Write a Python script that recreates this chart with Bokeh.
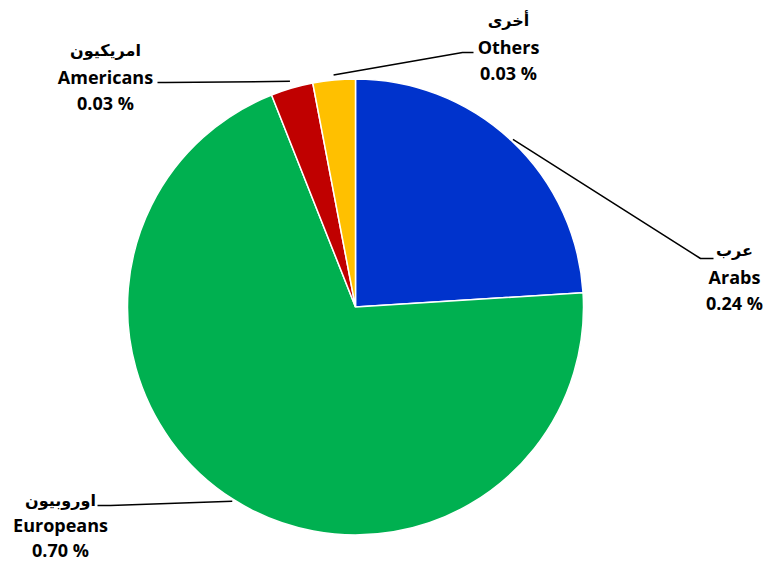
import math
from bokeh.plotting import figure
from bokeh.models import Range1d, ColumnDataSource
from bokeh.core.properties import value
from bokeh.embed import file_html
from bokeh.resources import INLINE

# ---- data ----
categories_en = ["Arabs", "Europeans", "Americans", "Others"]
categories_ar = ["عرب", "اوروبيون", "امريكيون", "أخرى"]
shares = [0.24, 0.70, 0.03, 0.03]
share_labels = ["0.24 %", "0.70 %", "0.03 %", "0.03 %"]
colors = ["#0033CC", "#00B050", "#C00000", "#FFC000"]

# ---- layout (screen pixel coordinates) ----
W, H = 768, 563
cx, cy_s, R = 355, 306.5, 228

def sy(y):
    return H - y

# label text centre x, first-line y, line gap, leader elbow and end (screen coords)
label_layout = {
    "Arabs":     dict(tx=734, ty=250, gap=26, elbow=(700, 258), end=(713, 258), lr=2),
    "Europeans": dict(tx=60,  ty=500, gap=24.5, elbow=(110, 505), end=(97, 505), lr=2),
    "Americans": dict(tx=105, ty=50,  gap=26, elbow=(165, 82),  end=(157, 82), lr=7),
    "Others":    dict(tx=508, ty=20,  gap=26, elbow=(462, 52),  end=(473, 52), lr=5),
}

p = figure(width=W, height=H, output_backend="svg", toolbar_location=None,
           x_range=Range1d(0, W), y_range=Range1d(0, H),
           min_border=0, match_aspect=False)
p.axis.visible = False
p.grid.visible = False
p.outline_line_color = None
p.background_fill_color = "white"
p.border_fill_color = "white"

# wedges, clockwise from 12 o'clock
starts, ends, mids = [], [], []
cum = 0.0
for s in shares:
    a0 = math.pi / 2 - cum * 2 * math.pi
    cum += s
    a1 = math.pi / 2 - cum * 2 * math.pi
    starts.append(a0)
    ends.append(a1)
    mids.append((a0 + a1) / 2)

src = ColumnDataSource(dict(x=[cx] * 4, y=[sy(cy_s)] * 4, start=starts, end=ends,
                            color=colors, name=categories_en))
p.wedge(x="x", y="y", radius=R, start_angle="start", end_angle="end",
        direction="clock", fill_color="color", line_color="white",
        line_width=1.5, source=src)

# leaders & labels
for name, ar, lab, mid in zip(categories_en, categories_ar, share_labels, mids):
    L = label_layout[name]
    x0 = cx + (R + L["lr"]) * math.cos(mid)
    y0 = sy(cy_s) + (R + L["lr"]) * math.sin(mid)
    ex, ey = L["elbow"]
    nx, ny = L["end"]
    g = L["gap"]
    p.line([x0, ex, nx], [y0, sy(ey), sy(ny)], line_color="black", line_width=1.5)
    p.text(x=[L["tx"]], y=[sy(L["ty"])], text=[ar], text_font=value("DejaVu Sans"),
           text_font_style="bold", text_font_size="16px", text_align="center",
           text_baseline="middle", text_color="black")
    p.text(x=[L["tx"]], y=[sy(L["ty"] + g)], text=[name], text_font=value("Open Sans"),
           text_font_style="bold", text_font_size="18px", text_align="center",
           text_baseline="middle", text_color="black")
    p.text(x=[L["tx"]], y=[sy(L["ty"] + 2 * g)], text=[lab], text_font=value("Open Sans"),
           text_font_style="bold", text_font_size="18px", text_align="center",
           text_baseline="middle", text_color="black")

open("out.html", "w").write(file_html(p, INLINE))
